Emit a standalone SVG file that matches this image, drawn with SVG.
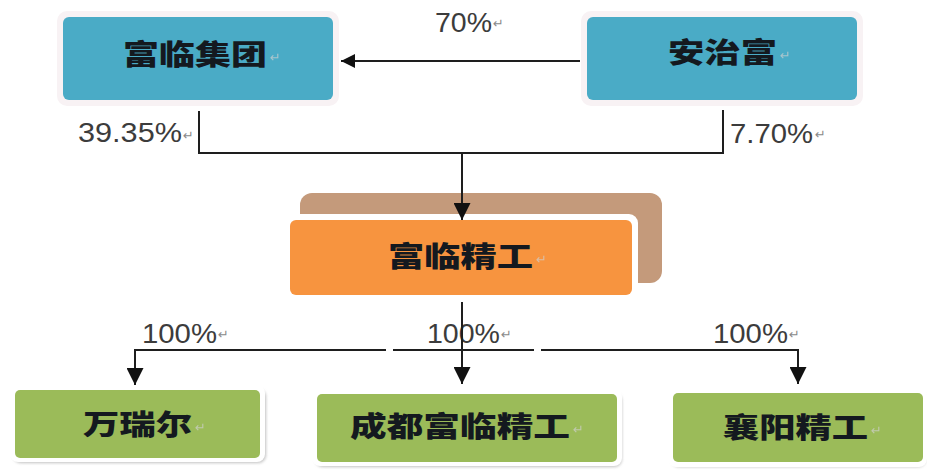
<svg xmlns="http://www.w3.org/2000/svg" width="927" height="473" viewBox="0 0 927 473">
<style>
.bt{font-family:"Noto Sans CJK SC","Noto Sans CJK JP",sans-serif;font-weight:900;font-size:28px;fill:#14191f}
.pct{font-family:"Liberation Sans","DejaVu Sans",sans-serif;font-size:27px;fill:#3c3c3c}
.ret{font-family:"DejaVu Sans",sans-serif;font-size:13px;fill:#8a8a8a}
.retb{font-family:"DejaVu Sans",sans-serif;font-size:13px;fill:#d0d0d0;opacity:0.7}
.conn{stroke:#1e1e1e;stroke-width:2;fill:none}
.blue{fill:#4aabc6}
.glow{fill:#f8f2f4}
.ring{fill:#ffffff}
.green{fill:#9bbb59}
.shadow{fill:#8f8f8f;opacity:0.55}
</style>
<defs>
<filter id="blur" x="-10%" y="-10%" width="120%" height="130%"><feGaussianBlur stdDeviation="1.5"/></filter>
<marker id="ah" viewBox="0 0 10 10" refX="10" refY="5" markerWidth="17" markerHeight="17" markerUnits="userSpaceOnUse" orient="auto"><path d="M0,0 L10,5 L0,10 Z" fill="#111"/></marker>
<marker id="ahs" viewBox="0 0 10 10" refX="10" refY="5" markerWidth="17" markerHeight="14" markerUnits="userSpaceOnUse" orient="auto"><path d="M0,0 L10,5 L0,10 Z" fill="#111"/></marker>
</defs>
<rect width="927" height="473" fill="#ffffff"/>

<g id="labels">
<text class="pct" x="435" y="32" textLength="57" lengthAdjust="spacingAndGlyphs">70%</text><text class="ret" x="493" y="28">↵</text>
<text class="pct" x="78" y="142" textLength="104" lengthAdjust="spacingAndGlyphs">39.35%</text><text class="ret" x="183" y="140">↵</text>
<text class="pct" x="730" y="143" textLength="83" lengthAdjust="spacingAndGlyphs">7.70%</text><text class="ret" x="815" y="139">↵</text>
<text class="pct" x="142" y="343" textLength="75" lengthAdjust="spacingAndGlyphs">100%</text><text class="ret" x="218" y="339">↵</text>
<text class="pct" x="427" y="343" textLength="73" lengthAdjust="spacingAndGlyphs">100%</text><text class="ret" x="501" y="339">↵</text>
<text class="pct" x="713" y="343" textLength="75" lengthAdjust="spacingAndGlyphs">100%</text><text class="ret" x="789" y="339">↵</text>
</g>

<g id="node-fulin-group">
<rect class="glow" x="57" y="11" width="282" height="95" rx="10"/>
<rect class="blue" x="63" y="17" width="270" height="83" rx="6"/>
<text class="bt" x="123" y="65" textLength="144" lengthAdjust="spacingAndGlyphs">富临集团</text><text class="retb" x="270" y="62">↵</text>
</g>

<g id="node-anzhifu">
<rect class="glow" x="581" y="11" width="282" height="95" rx="10"/>
<rect class="blue" x="587" y="17" width="270" height="83" rx="6"/>
<text class="bt" x="668" y="63" textLength="109" lengthAdjust="spacingAndGlyphs">安治富</text><text class="retb" x="780" y="60">↵</text>
</g>

<g id="node-fulin-jinggong">
<rect x="300" y="193" width="362" height="90" rx="12" fill="#c49a7b"/>
<rect class="ring" x="284" y="214" width="354" height="87" rx="9"/>
<rect x="290" y="220" width="342" height="75" rx="6" fill="#f7943f"/>
<text class="bt" x="388" y="267" textLength="145" lengthAdjust="spacingAndGlyphs">富临精工</text><text class="retb" x="536" y="264">↵</text>
</g>

<g id="node-wanruier">
<rect class="shadow" x="13" y="389" width="253" height="74" rx="8" filter="url(#blur)"/>
<rect class="ring" x="10" y="385" width="255" height="77" rx="8"/>
<rect class="green" x="15" y="390" width="245" height="68" rx="5"/>
<text class="bt" x="83" y="435" textLength="109" lengthAdjust="spacingAndGlyphs">万瑞尔</text><text class="retb" x="195" y="432">↵</text>
</g>

<g id="node-chengdu">
<rect class="shadow" x="315" y="393" width="307" height="74" rx="8" filter="url(#blur)"/>
<rect class="ring" x="312" y="389" width="310" height="77" rx="8"/>
<rect class="green" x="317" y="394" width="300" height="68" rx="5"/>
<text class="bt" x="350" y="437" textLength="220" lengthAdjust="spacingAndGlyphs">成都富临精工</text><text class="retb" x="573" y="434">↵</text>
</g>

<g id="node-xiangyang">
<rect class="shadow" x="671" y="392" width="255" height="75" rx="8" filter="url(#blur)"/>
<rect class="ring" x="668" y="388" width="259" height="79" rx="8"/>
<rect class="green" x="673" y="393" width="250" height="69" rx="5"/>
<text class="bt" x="723" y="438" textLength="145" lengthAdjust="spacingAndGlyphs">襄阳精工</text><text class="retb" x="871" y="435">↵</text>
</g>

<g id="connectors">
<path class="conn" d="M580,61 H341" marker-end="url(#ahs)"/>
<path class="conn" d="M199,111 V153 H723 V110"/>
<path class="conn" d="M462,153 V220" marker-end="url(#ah)"/>
<path class="conn" d="M462,302 V384" marker-end="url(#ah)"/>
<path class="conn" d="M135,350 H386 M393,350 H534 M541,350 H798"/>
<path class="conn" d="M135,349 V385" marker-end="url(#ah)"/>
<path class="conn" d="M798,349 V384" marker-end="url(#ah)"/>
</g>
</svg>
